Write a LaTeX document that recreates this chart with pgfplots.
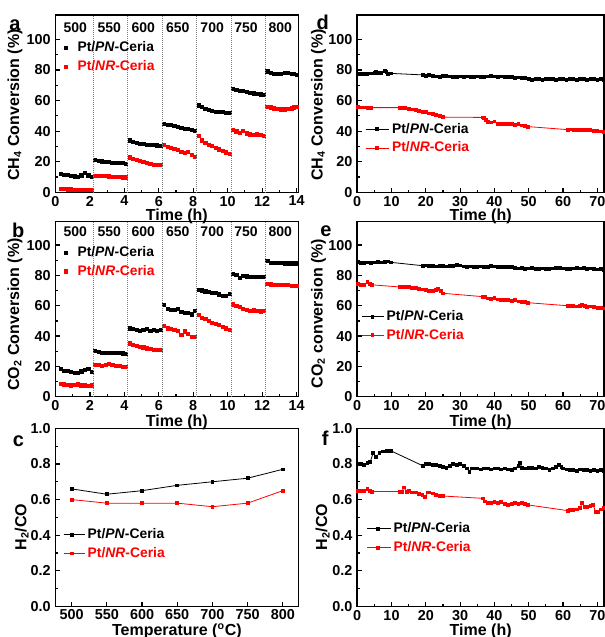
\documentclass[border=0pt]{standalone}
\usepackage{fontspec}
\setmainfont{Liberation Sans}
\usepackage{pgfplots}
\pgfplotsset{compat=1.18}

\tikzset{
  letter/.style={font=\fontsize{15}{15}\selectfont\bfseries},
  temp/.style={font=\fontsize{10.5}{12}\selectfont\bfseries},
}
\pgfplotsset{
  panel/.style={
    scale only axis, anchor=south west, clip mode=individual,
    axis line style={line width=1.1pt},
    tick style={line width=0.9pt, black},
    major tick length=3.5pt, minor tick length=2pt,
    tick pos=left, tick align=inside,
    tick label style={font=\fontsize{10.8}{12}\selectfont\bfseries},
    xticklabel style={yshift=0.75pt},
    /pgf/number format/assume math mode=true,
    label style={font=\fontsize{12}{14}\selectfont\bfseries},
    legend style={draw=none, fill=none, font=\fontsize{10.4}{12}\selectfont\bfseries,
      anchor=west, inner xsep=0pt, inner ysep=0pt, row sep=1pt},
    legend cell align=left,
  },
  dots/.style={only marks, mark=square*, mark size=1.2pt},
  linelegend/.style 2 args={legend image code/.code={\path (0,0) -- (#2,0);
      \draw[mark repeat=2,mark phase=2,##1]
      plot coordinates {(0cm,0cm) (#1/2,0cm) (#1,0cm)};}},
  ser/.style={line width=0.6pt, mark=square*, mark size=1.05pt},
  divider/.style={gray, densely dotted, line width=0.5pt, forget plot},
}

\begin{document}
\begin{tikzpicture}
\useasboundingbox (0,0) rectangle (453.75pt,477.75pt);

% ---------------- a ----------------
\begin{axis}[panel, at={(41.6pt,333.5pt)}, width=182.1pt, height=133pt,
  xmin=0, xmax=14.1, ymin=0, ymax=116,
  xtick={0,2,...,14}, ytick={0,20,...,100}, minor x tick num=1, minor y tick num=1,
  xlabel={Time (h)}, ylabel={CH\textsubscript{4} Conversion (\%)},
  xlabel style={at={(axis description cs:0.5,-0.138)}, anchor=center},
  ylabel style={at={(axis description cs:-0.167,0.492)}, anchor=center},
  legend style={at={(axis description cs:0.034,0.763)}},
  extra description/.code={\node[letter] at (-0.167,0.944) {a};},
]
\addplot[dots, black] coordinates {
(0.3,12.4)(0.5,11.3)(0.7,11.3)(0.9,11.0)(1.1,10.5)(1.3,10.0)(1.5,11.2)(1.7,12.8)(1.9,11.2)(2.1,10.3)
(2.3,21.3)(2.5,20.8)(2.7,20.3)(2.9,20.0)(3.1,19.8)(3.3,19.6)(3.5,19.5)(3.7,19.4)(3.9,19.2)(4.1,18.9)
(4.3,34.0)(4.5,33.2)(4.7,32.6)(4.9,32.0)(5.1,31.6)(5.3,31.2)(5.5,31.0)(5.7,31.2)(5.9,30.8)(6.1,30.2)
(6.3,45.0)(6.5,44.2)(6.7,44.0)(6.9,43.6)(7.1,43.0)(7.3,42.2)(7.5,41.8)(7.7,41.4)(7.9,40.8)(8.1,40.4)
(8.3,57.0)(8.5,55.8)(8.7,54.9)(8.9,54.0)(9.1,53.3)(9.3,52.8)(9.5,52.5)(9.7,52.6)(9.9,52.2)(10.1,51.8)
(10.3,67.6)(10.5,67.0)(10.7,66.2)(10.9,66.5)(11.1,65.6)(11.3,65.0)(11.5,64.8)(11.7,64.5)(11.9,64.2)(12.1,64.0)
(12.3,79.2)(12.5,78.2)(12.7,77.8)(12.9,77.5)(13.1,77.6)(13.3,78.3)(13.5,78.2)(13.7,77.6)(13.85,77.4)(14.0,77.0)};
\addlegendentry{\hspace{5.75pt}Pt/\textit{PN}-Ceria}
\addplot[dots, red] coordinates {
(0.3,2.2)(0.5,2.1)(0.7,2.0)(0.9,2.0)(1.1,1.9)(1.3,1.8)(1.5,1.7)(1.7,1.6)(1.9,1.6)(2.1,1.5)
(2.3,11.0)(2.5,11.0)(2.7,10.8)(2.9,10.7)(3.1,10.5)(3.3,10.4)(3.5,10.2)(3.7,10.0)(3.9,9.8)(4.1,9.8)
(4.3,23.0)(4.5,22.0)(4.7,21.2)(4.9,20.4)(5.1,19.8)(5.3,19.2)(5.5,18.6)(5.7,18.2)(5.9,18.0)(6.1,18.0)
(6.3,31.0)(6.5,30.0)(6.7,29.2)(6.9,28.4)(7.1,27.6)(7.3,26.6)(7.5,25.8)(7.7,26.4)(7.9,24.6)(8.1,23.2)
(8.3,37.0)(8.5,34.0)(8.7,32.4)(8.9,31.2)(9.1,30.2)(9.3,29.2)(9.5,28.2)(9.7,27.2)(9.9,26.2)(10.1,25.4)
(10.3,41.0)(10.5,40.0)(10.7,39.0)(10.9,40.2)(11.1,38.6)(11.3,38.0)(11.5,37.4)(11.7,38.0)(11.9,37.4)(12.1,37.2)
(12.3,56.2)(12.5,55.6)(12.7,55.0)(12.9,54.6)(13.1,54.4)(13.3,54.4)(13.5,54.6)(13.7,55.0)(13.85,55.6)(14.0,56.0)};
\addlegendentry{\hspace{5.75pt}\textcolor{red}{Pt/\textit{NR}-Ceria}}
\addplot[divider] coordinates {(2.2,0)(2.2,116)};
\addplot[divider] coordinates {(4.2,0)(4.2,116)};
\addplot[divider] coordinates {(6.2,0)(6.2,116)};
\addplot[divider] coordinates {(8.2,0)(8.2,116)};
\addplot[divider] coordinates {(10.2,0)(10.2,116)};
\addplot[divider] coordinates {(12.2,0)(12.2,116)};
\node[temp] at (axis cs:1.15,108) {500};
\node[temp] at (axis cs:3.12,108) {550};
\node[temp] at (axis cs:5.1,108) {600};
\node[temp] at (axis cs:7.1,108) {650};
\node[temp] at (axis cs:9.1,108) {700};
\node[temp] at (axis cs:11.07,108) {750};
\node[temp] at (axis cs:13.05,108) {800};
\end{axis}

% ---------------- b ----------------
\begin{axis}[panel, at={(41.6pt,180.2pt)}, width=182.1pt, height=131.25pt,
  xmin=0, xmax=14.1, ymin=0, ymax=115.4,
  xtick={0,2,...,14}, ytick={0,20,...,100}, minor x tick num=1, minor y tick num=1,
  xlabel={Time (h)}, ylabel={CO\textsubscript{2} Conversion (\%)},
  xlabel style={at={(axis description cs:0.5,-0.148)}, anchor=center},
  ylabel style={at={(axis description cs:-0.167,0.47)}, anchor=center},
  legend style={at={(axis description cs:0.034,0.77)}},
  extra description/.code={\node[letter] at (-0.153,0.948) {b};},
]
\addplot[dots, black] coordinates {
(0.3,18.2)(0.5,17.2)(0.7,17.0)(0.9,16.6)(1.1,16.0)(1.3,15.6)(1.5,16.8)(1.7,17.6)(1.9,18.6)(2.1,16.2)
(2.3,30.5)(2.5,29.6)(2.7,29.2)(2.9,29.0)(3.1,29.2)(3.3,29.0)(3.5,29.2)(3.7,28.8)(3.9,28.6)(4.1,28.2)
(4.3,45.2)(4.5,44.6)(4.7,44.0)(4.9,43.6)(5.1,44.4)(5.3,45.0)(5.5,43.4)(5.7,44.0)(5.9,43.6)(6.1,44.0)
(6.3,60.5)(6.5,58.0)(6.7,57.2)(6.9,57.2)(7.1,58.2)(7.3,56.0)(7.5,55.6)(7.7,55.6)(7.9,54.4)(8.1,56.6)
(8.3,70.6)(8.5,70.2)(8.7,69.6)(8.9,69.2)(9.1,68.8)(9.3,68.6)(9.5,67.6)(9.7,66.6)(9.9,66.6)(10.1,67.8)
(10.3,81.2)(10.5,80.2)(10.7,78.2)(10.9,79.6)(11.1,79.4)(11.3,79.2)(11.5,79.0)(11.7,79.0)(11.9,79.0)(12.1,79.0)
(12.3,89.6)(12.5,88.6)(12.7,88.4)(12.9,88.2)(13.1,88.2)(13.3,88.0)(13.5,88.0)(13.7,88.0)(13.85,88.0)(14.0,88.0)};
\addlegendentry{\hspace{5.75pt}Pt/\textit{PN}-Ceria}
\addplot[dots, red] coordinates {
(0.3,8.6)(0.5,8.2)(0.7,8.0)(0.9,7.6)(1.1,8.0)(1.3,8.2)(1.5,7.6)(1.7,7.6)(1.9,7.4)(2.1,7.6)
(2.3,21.2)(2.5,21.0)(2.7,20.6)(2.9,21.0)(3.1,21.6)(3.3,21.2)(3.5,20.6)(3.7,20.2)(3.9,20.0)(4.1,20.0)
(4.3,35.2)(4.5,34.2)(4.7,33.6)(4.9,33.0)(5.1,32.6)(5.3,32.0)(5.5,31.6)(5.7,31.2)(5.9,31.0)(6.1,31.0)
(6.3,46.6)(6.5,45.2)(6.7,44.6)(6.9,44.0)(7.1,43.6)(7.3,41.0)(7.5,43.2)(7.7,41.6)(7.9,39.8)(8.1,39.6)
(8.3,54.2)(8.5,52.2)(8.7,51.2)(8.9,50.2)(9.1,48.6)(9.3,48.0)(9.5,47.2)(9.7,46.2)(9.9,45.2)(10.1,44.2)
(10.3,61.0)(10.5,60.0)(10.7,59.2)(10.9,58.2)(11.1,57.2)(11.3,56.6)(11.5,57.0)(11.7,56.6)(11.9,56.4)(12.1,56.6)
(12.3,74.6)(12.5,74.2)(12.7,74.0)(12.9,73.6)(13.1,73.6)(13.3,73.6)(13.5,73.6)(13.7,73.4)(13.85,73.2)(14.0,73.0)};
\addlegendentry{\hspace{5.75pt}\textcolor{red}{Pt/\textit{NR}-Ceria}}
\addplot[divider] coordinates {(2.2,0)(2.2,116)};
\addplot[divider] coordinates {(4.2,0)(4.2,116)};
\addplot[divider] coordinates {(6.2,0)(6.2,116)};
\addplot[divider] coordinates {(8.2,0)(8.2,116)};
\addplot[divider] coordinates {(10.2,0)(10.2,116)};
\addplot[divider] coordinates {(12.2,0)(12.2,116)};
\node[temp] at (axis cs:1.15,108.6) {500};
\node[temp] at (axis cs:3.12,108.6) {550};
\node[temp] at (axis cs:5.1,108.6) {600};
\node[temp] at (axis cs:7.1,108.6) {650};
\node[temp] at (axis cs:9.1,108.6) {700};
\node[temp] at (axis cs:11.07,108.6) {750};
\node[temp] at (axis cs:13.05,108.6) {800};
\end{axis}

% ---------------- c ----------------
\begin{axis}[panel, at={(41.6pt,22.9pt)}, width=182.1pt, height=133.6pt,
  xmin=477, xmax=822, ymin=0, ymax=1,
  xtick={500,550,...,800}, ytick={0,0.2,...,1.0}, minor y tick num=1,
  xticklabel style={yshift=0.75pt},
  yticklabel style={/pgf/number format/.cd, fixed, fixed zerofill, precision=1},
  xlabel={Temperature (\textsuperscript{o}C)}, ylabel={H\textsubscript{2}/CO},
  xlabel style={at={(axis description cs:0.5,-0.137)}, anchor=center},
  ylabel style={at={(axis description cs:-0.139,0.445)}, anchor=center},
  legend style={at={(axis description cs:0.031,0.351)}}, linelegend={12.75pt}{15.75pt},
  extra description/.code={\node[letter] at (-0.153,0.925) {c};},
]
\addplot[ser, black] coordinates {(500,0.66)(550,0.63)(600,0.65)(650,0.68)(700,0.70)(750,0.72)(800,0.77)};
\addlegendentry{Pt/\textit{PN}-Ceria}
\addplot[ser, red] coordinates {(500,0.60)(550,0.58)(600,0.58)(650,0.58)(700,0.56)(750,0.58)(800,0.65)};
\addlegendentry{\textcolor{red}{Pt/\textit{NR}-Ceria}}
\end{axis}

% ---------------- d ----------------
\begin{axis}[panel, at={(267.9pt,333.5pt)}, width=185.25pt, height=133pt,
  xmin=0, xmax=72, ymin=0, ymax=116,
  xtick={0,10,...,70}, ytick={0,20,...,100}, minor x tick num=1, minor y tick num=1,
  xlabel={Time (h)}, ylabel={CH\textsubscript{4} Conversion (\%)},
  xlabel style={at={(axis description cs:0.5,-0.138)}, anchor=center},
  ylabel style={at={(axis description cs:-0.157,0.492)}, anchor=center},
  legend style={at={(axis description cs:0.0316,0.303)}}, linelegend={16.5pt}{17.5pt},
  extra description/.code={\node[letter] at (-0.14,0.958) {d};},
]
\addplot[ser, black] coordinates {
(0.2,77.5)(1,77.5)(2,77.3)(3,77.6)(4,77.8)(5,78.2)(5.5,78.6)(6,78.0)(7,78.2)(8,79.6)(8.5,78.8)(9,77.4)(9.9,77.8)
(19.2,76.8)(20,76.4)(21,76.6)(22,76.0)(23,75.8)(24,75.6)(25,76.2)(26,76.4)(27,75.8)(28,75.4)(29,75.6)(30,75.8)
(31,75.6)(32,75.8)(33,75.6)(34,75.4)(35,75.8)(36,75.6)(37,75.4)(38,75.8)(39,76.0)(40,75.8)(41,75.6)(42,75.8)
(43,75.6)(44,75.4)(45,75.6)(46,75.0)(47,75.2)(48,74.8)(49,74.6)(50,74.0)(51,73.8)(52,74.2)(53,74.0)(54,73.8)
(55,74.2)(56,74.0)(57,74.2)(58,73.8)(59,74.0)(60,74.2)(61,73.8)(62,74.0)(63,74.2)(64,73.8)(65,74.0)(66,74.4)
(67,73.8)(68,74.0)(69,74.2)(70,73.8)(71,74.0)(71.8,73.8)};
\addlegendentry{Pt/\textit{PN}-Ceria}
\addplot[ser, red] coordinates {
(0.2,55.8)(1,55.6)(2,55.6)(3,55.4)(4.1,55.4)
(12.3,55.4)(13,55.2)(14,55.4)(15,54.8)(16,54.2)(17,53.8)(18,53.2)(19,52.8)(20,52.4)(21,51.6)(22,51.2)(23,50.6)(24,49.8)(25,49.2)
(36.6,49.0)(37,48.8)(37.6,47.2)(38,46.0)(39,45.8)(40,46.4)(41,45.0)(42,44.8)(43,44.6)(44,44.8)(45,44.6)(46,44.2)(47,44.6)(48,43.8)(49,43.2)(49.8,43.0)
(61.4,41.0)(62,41.2)(63,41.0)(64,40.8)(65,41.0)(66,40.6)(67,40.8)(68,40.6)(69,40.4)(70,40.2)(71,39.8)(71.8,39.6)};
\addlegendentry{\textcolor{red}{Pt/\textit{NR}-Ceria}}
\end{axis}

% ---------------- e ----------------
\begin{axis}[panel, at={(267.9pt,180.2pt)}, width=185.25pt, height=131.25pt,
  xmin=0, xmax=72, ymin=0, ymax=115.4,
  xtick={0,10,...,70}, ytick={0,20,...,100}, minor x tick num=1, minor y tick num=1,
  xlabel={Time (h)}, ylabel={CO\textsubscript{2} conversion (\%)},
  xlabel style={at={(axis description cs:0.5,-0.148)}, anchor=center},
  ylabel style={at={(axis description cs:-0.157,0.475)}, anchor=center},
  legend style={at={(axis description cs:0.018,0.405)}}, linelegend={15pt}{16pt},
  extra description/.code={\node[letter] at (-0.127,0.948) {e};},
]
\addplot[ser, black] coordinates {
(0.2,88.6)(1,88.4)(2,88.2)(3,88.6)(4,88.4)(5,88.6)(6,88.8)(7,88.6)(8,89.0)(9,89.2)(9.9,88.6)
(19.1,86.4)(20,86.6)(21,86.2)(22,86.4)(23,86.0)(24,86.2)(25,86.4)(26,86.0)(27,86.2)(28,86.4)(29,86.8)(30,86.6)
(31,86.0)(32,85.8)(33,86.0)(34,85.6)(35,85.8)(36,86.0)(37,85.6)(38,85.8)(39,86.2)(40,86.0)(41,85.6)(42,85.8)
(43,85.6)(44,85.4)(45,85.8)(46,85.0)(47,84.6)(48,84.8)(49,84.4)(50,84.6)(51,84.8)(52,84.2)(53,84.4)(54,84.6)
(55,84.2)(56,84.4)(57,84.6)(58,84.8)(59,85.2)(60,84.6)(61,84.2)(62,84.4)(63,84.6)(64,84.8)(65,84.6)(66,85.0)
(67,84.4)(68,84.6)(69,84.2)(70,84.0)(71,84.2)(71.8,83.8)};
\addlegendentry{Pt/\textit{PN}-Ceria}
\addplot[ser, red] coordinates {
(0.2,74.2)(1,74.0)(2,73.8)(3,75.8)(3.6,74.6)(4.2,73.8)
(12.3,72.4)(13,72.6)(14,72.2)(15,72.4)(16,72.0)(17,71.6)(18,71.0)(19,70.8)(20,70.4)(21,70.0)(22,69.8)(23,70.2)(23.6,71.0)(24.3,69.6)(25,68.2)
(36.6,66.0)(37.2,65.8)(38,64.8)(39,64.6)(40,65.4)(41,64.2)(42,64.0)(43,63.8)(44,63.6)(45,63.4)(46,63.6)(47,62.8)(48,62.6)(49,62.4)(49.8,62.0)
(61.4,60.0)(62,59.8)(63,60.0)(64,59.6)(65,59.8)(65.6,60.8)(66.4,59.8)(67,59.4)(68,59.6)(69,59.0)(70,58.6)(71,58.4)(71.8,58.2)};
\addlegendentry{\textcolor{red}{Pt/\textit{NR}-Ceria}}
\end{axis}

% ---------------- f ----------------
\begin{axis}[panel, at={(267.9pt,22.9pt)}, width=185.25pt, height=133.6pt,
  xmin=0, xmax=72, ymin=0, ymax=1,
  xtick={0,10,...,70}, ytick={0,0.2,...,1.0}, minor x tick num=1, minor y tick num=1,
  yticklabel style={/pgf/number format/.cd, fixed, fixed zerofill, precision=1},
  xlabel={Time (h)}, ylabel={H\textsubscript{2}/CO},
  xlabel style={at={(axis description cs:0.5,-0.137)}, anchor=center},
  ylabel style={at={(axis description cs:-0.14,0.445)}, anchor=center},
  legend style={at={(axis description cs:0.038,0.383)}}, linelegend={15.5pt}{17.5pt},
  extra description/.code={\node[letter] at (-0.13,0.944) {f};},
]
\addplot[ser, black] coordinates {
(0.2,0.80)(1,0.80)(2,0.795)(3,0.805)(3.8,0.81)(4.6,0.86)(5.5,0.84)(6.5,0.86)(7.5,0.87)(8.5,0.873)(9.3,0.873)(9.9,0.873)
(19.1,0.79)(20,0.80)(21,0.80)(22,0.795)(23,0.795)(24,0.79)(25,0.785)(26,0.78)(27,0.79)(28,0.80)(29,0.795)(30,0.80)
(31,0.79)(32,0.775)(32.7,0.757)(33.5,0.775)(34,0.775)(35,0.775)(36,0.77)(37,0.775)(38,0.775)(39,0.77)(40,0.775)
(41,0.775)(42,0.77)(43,0.775)(44,0.77)(45,0.765)(46,0.775)(47,0.79)(47.4,0.808)(48,0.78)(49,0.775)(50,0.78)
(51,0.78)(52,0.775)(53,0.785)(54,0.78)(55,0.775)(56,0.765)(57,0.775)(58,0.785)(58.8,0.795)(59.5,0.785)(60,0.775)
(61,0.77)(62,0.765)(63,0.765)(64,0.76)(65,0.77)(66,0.765)(67,0.765)(68,0.76)(69,0.765)(70,0.76)(71,0.765)(71.8,0.76)};
\addlegendentry{Pt/\textit{PN}-Ceria}
\addplot[ser, red] coordinates {
(0.2,0.65)(1,0.65)(2,0.65)(3,0.658)(3.8,0.65)(4.4,0.645)
(12.3,0.645)(13,0.645)(13.6,0.668)(14.4,0.645)(15,0.65)(16,0.64)(17,0.64)(18,0.63)(19,0.625)(19.8,0.615)(20.5,0.64)(21,0.64)(22,0.635)(23,0.625)(24,0.62)(25,0.62)
(36.6,0.607)(37.2,0.59)(38,0.58)(39,0.58)(40,0.585)(41,0.58)(42,0.585)(43,0.575)(44,0.57)(45,0.575)(46,0.58)(47,0.575)(48,0.58)(49,0.575)(49.8,0.57)
(61.4,0.538)(62,0.54)(63,0.54)(64,0.545)(65,0.555)(65.6,0.58)(66.4,0.56)(67,0.56)(68,0.565)(68.8,0.57)(69.5,0.53)(70.3,0.53)(71,0.545)(71.8,0.555)};
\addlegendentry{\textcolor{red}{Pt/\textit{NR}-Ceria}}
\end{axis}
\end{tikzpicture}
\end{document}
